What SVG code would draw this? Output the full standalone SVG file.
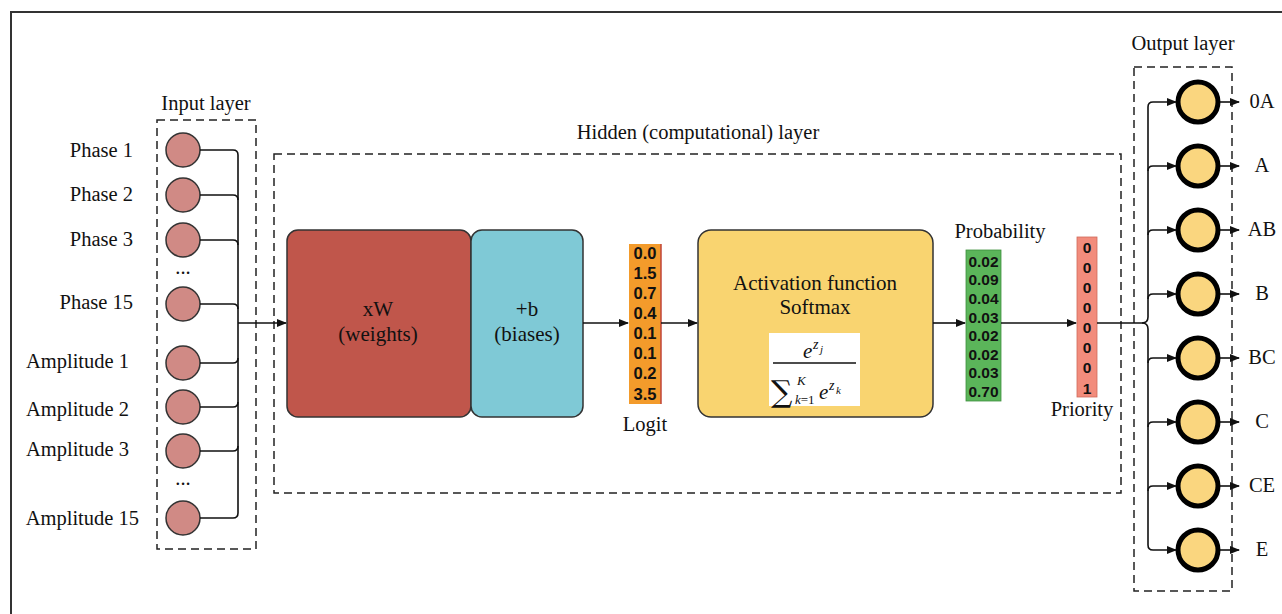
<svg xmlns="http://www.w3.org/2000/svg" width="1282" height="614" viewBox="0 0 1282 614">
  <defs>
    <marker id="arr" markerWidth="10" markerHeight="8" refX="9" refY="4" orient="auto" markerUnits="userSpaceOnUse">
      <path d="M0,0 L10,4 L0,8 Z" fill="#111"/>
    </marker>
    <style>
      .lbl { font-family: "Liberation Serif", "Times New Roman", serif; font-size: 20.5px; fill: #111; }
      .num { font-family: "Liberation Sans", Arial, sans-serif; font-size: 15.5px; font-weight: bold; fill: #111; text-anchor: middle; }
      .num.lg { font-size: 16.5px; }
      .dash { fill: none; stroke: #222; stroke-width: 1.5; stroke-dasharray: 8 5; }
      .wire { fill: none; stroke: #111; stroke-width: 1.6; }
      .inode { fill: #D08A85; stroke: #333; stroke-width: 1.5; }
      .onode { fill: #FAD67F; stroke: #000; stroke-width: 5; }
      .blk { stroke: #333; stroke-width: 1.5; }
      .math { font-family: "Liberation Serif", "Times New Roman", serif; font-style: italic; fill: #111; }
    </style>
  </defs>

  <rect width="1282" height="614" fill="#fff"/>
  <!-- outer frame -->
  <path d="M11,614 V12 H1282" fill="none" stroke="#333" stroke-width="2"/>

  <!-- layer containers -->
  <g id="input-layer">
    <rect class="dash" x="157" y="120" width="99" height="429"/>
    <text class="lbl" x="206" y="110" text-anchor="middle">Input layer</text>
  </g>
  <g id="hidden-layer">
    <rect class="dash" x="274" y="154" width="847" height="339"/>
    <text class="lbl" x="698" y="139" text-anchor="middle">Hidden (computational) layer</text>
  </g>
  <g id="output-layer">
    <rect class="dash" x="1134" y="67" width="98" height="524"/>
    <text class="lbl" x="1183" y="50" text-anchor="middle">Output layer</text>
  </g>

  <!-- input nodes -->
  <g id="inputs">
    <g id="in-phase1"><circle class="inode" cx="183" cy="150" r="17"/><text class="lbl" x="133" y="157" text-anchor="end">Phase 1</text></g>
    <g id="in-phase2"><circle class="inode" cx="183" cy="195" r="17"/><text class="lbl" x="133" y="201" text-anchor="end">Phase 2</text></g>
    <g id="in-phase3"><circle class="inode" cx="183" cy="240" r="17"/><text class="lbl" x="133" y="246" text-anchor="end">Phase 3</text></g>
    <text class="lbl" x="183" y="274" text-anchor="middle">...</text>
    <g id="in-phase15"><circle class="inode" cx="183" cy="304" r="17"/><text class="lbl" x="133" y="309" text-anchor="end">Phase 15</text></g>
    <g id="in-amp1"><circle class="inode" cx="183" cy="363" r="17"/><text class="lbl" x="129" y="368" text-anchor="end">Amplitude 1</text></g>
    <g id="in-amp2"><circle class="inode" cx="183" cy="407" r="17"/><text class="lbl" x="129" y="416" text-anchor="end">Amplitude 2</text></g>
    <g id="in-amp3"><circle class="inode" cx="183" cy="451" r="17"/><text class="lbl" x="129" y="456" text-anchor="end">Amplitude 3</text></g>
    <text class="lbl" x="183" y="485" text-anchor="middle">...</text>
    <g id="in-amp15"><circle class="inode" cx="183" cy="518" r="17"/><text class="lbl" x="139" y="525" text-anchor="end">Amplitude 15</text></g>
  </g>

  <!-- hidden layer blocks -->
  <g id="weights">
    <rect class="blk" x="287" y="230" width="184" height="187" rx="11" fill="#C0564B"/>
    <text class="lbl" x="378" y="316" text-anchor="middle" style="font-size:21px">xW</text>
    <text class="lbl" x="378" y="341" text-anchor="middle" style="font-size:21px">(weights)</text>
  </g>
  <g id="biases">
    <rect class="blk" x="471" y="230" width="112" height="187" rx="11" fill="#7FC9D6"/>
    <text class="lbl" x="527" y="316" text-anchor="middle" style="font-size:21px">+b</text>
    <text class="lbl" x="527" y="341" text-anchor="middle" style="font-size:21px">(biases)</text>
  </g>

  <g id="logit">
    <rect x="629" y="244" width="32" height="160" fill="#F39B2B"/>
    <line x1="661" y1="244" x2="661" y2="404" stroke="#C0453A" stroke-width="1.5"/>
    <text class="num lg" x="645" y="259">0.0</text>
    <text class="num lg" x="645" y="279">1.5</text>
    <text class="num lg" x="645" y="299">0.7</text>
    <text class="num lg" x="645" y="319">0.4</text>
    <text class="num lg" x="645" y="339">0.1</text>
    <text class="num lg" x="645" y="359">0.1</text>
    <text class="num lg" x="645" y="379">0.2</text>
    <text class="num lg" x="645" y="400">3.5</text>
    <text class="lbl" x="645" y="431" text-anchor="middle">Logit</text>
  </g>

  <g id="softmax">
    <rect class="blk" x="698" y="230" width="235" height="187" rx="13" fill="#F9D470"/>
    <text class="lbl" x="815" y="290" text-anchor="middle" style="font-size:21px">Activation function</text>
    <text class="lbl" x="815" y="314" text-anchor="middle" style="font-size:21px">Softmax</text>
    <rect x="769" y="333" width="91" height="73" fill="#fff"/>
    <!-- numerator e^{z_j} -->
    <text class="math" x="803" y="358" font-size="21">e</text>
    <text class="math" x="813" y="349" font-size="14">z</text>
    <text class="math" x="820" y="353" font-size="11">j</text>
    <line x1="773" y1="363" x2="856" y2="363" stroke="#111" stroke-width="1.4"/>
    <!-- denominator sum_{k=1}^{K} e^{z_k} -->
    <text x="771" y="402" font-family="'DejaVu Serif', serif" font-size="30" fill="#111">∑</text>
    <text class="math" x="797" y="385" font-size="13">K</text>
    <text x="795" y="404" font-family="'Liberation Serif', serif" font-size="13" fill="#111"><tspan font-style="italic">k</tspan>=1</text>
    <text class="math" x="819" y="399" font-size="21">e</text>
    <text class="math" x="829" y="390" font-size="14">z</text>
    <text class="math" x="836" y="394" font-size="11">k</text>
  </g>

  <g id="probability">
    <rect x="966" y="250" width="35" height="151" fill="#5BB55A" stroke="#3E8F3D" stroke-width="0.8"/>
    <text class="num" x="983.5" y="267">0.02</text>
    <text class="num" x="983.5" y="285">0.09</text>
    <text class="num" x="983.5" y="304">0.04</text>
    <text class="num" x="983.5" y="323">0.03</text>
    <text class="num" x="983.5" y="341">0.02</text>
    <text class="num" x="983.5" y="360">0.02</text>
    <text class="num" x="983.5" y="378">0.03</text>
    <text class="num" x="983.5" y="397">0.70</text>
    <text class="lbl" x="1000" y="238" text-anchor="middle">Probability</text>
  </g>

  <g id="priority">
    <rect x="1077" y="237" width="20" height="160" fill="#F28C7C" stroke="#D06A5A" stroke-width="0.8"/>
    <text class="num" x="1087" y="253">0</text>
    <text class="num" x="1087" y="273">0</text>
    <text class="num" x="1087" y="293">0</text>
    <text class="num" x="1087" y="313">0</text>
    <text class="num" x="1087" y="333">0</text>
    <text class="num" x="1087" y="353">0</text>
    <text class="num" x="1087" y="373">0</text>
    <text class="num" x="1087" y="394">1</text>
    <text class="lbl" x="1082" y="416" text-anchor="middle">Priority</text>
  </g>

  <!-- output nodes -->
  <g id="outputs">
    <g id="out-0A"><circle class="onode" cx="1198" cy="102" r="20"/><text class="lbl" x="1262" y="108" text-anchor="middle">0A</text></g>
    <g id="out-A"><circle class="onode" cx="1198" cy="166" r="20"/><text class="lbl" x="1262" y="172" text-anchor="middle">A</text></g>
    <g id="out-AB"><circle class="onode" cx="1198" cy="230" r="20"/><text class="lbl" x="1262" y="236" text-anchor="middle">AB</text></g>
    <g id="out-B"><circle class="onode" cx="1198" cy="294" r="20"/><text class="lbl" x="1262" y="300" text-anchor="middle">B</text></g>
    <g id="out-BC"><circle class="onode" cx="1198" cy="358" r="20"/><text class="lbl" x="1262" y="364" text-anchor="middle">BC</text></g>
    <g id="out-C"><circle class="onode" cx="1198" cy="422" r="20"/><text class="lbl" x="1262" y="428" text-anchor="middle">C</text></g>
    <g id="out-CE"><circle class="onode" cx="1198" cy="486" r="20"/><text class="lbl" x="1262" y="492" text-anchor="middle">CE</text></g>
    <g id="out-E"><circle class="onode" cx="1198" cy="550" r="20"/><text class="lbl" x="1262" y="556" text-anchor="middle">E</text></g>
  </g>

  <!-- connectors -->
  <g id="connectors">
    <!-- input bus -->
    <path class="wire" d="M200,150 H233 Q238,150 238,155 V513 Q238,518 233,518 H200"/>
    <path class="wire" d="M200,195 H233 Q238,195 238,200"/>
    <path class="wire" d="M200,240 H233 Q238,240 238,245"/>
    <path class="wire" d="M200,304 H233 Q238,304 238,309"/>
    <path class="wire" d="M200,363 H233 Q238,363 238,358"/>
    <path class="wire" d="M200,407 H233 Q238,407 238,402"/>
    <path class="wire" d="M200,451 H233 Q238,451 238,446"/>
    <path class="wire" d="M238,323 H286" marker-end="url(#arr)"/>

    <!-- hidden layer flow -->
    <path class="wire" d="M583,323 H628" marker-end="url(#arr)"/>
    <path class="wire" d="M661,323 H697" marker-end="url(#arr)"/>
    <path class="wire" d="M933,323 H965" marker-end="url(#arr)"/>
    <path class="wire" d="M1001,323 H1076" marker-end="url(#arr)"/>

    <!-- output bus -->
    <path class="wire" d="M1097,323 H1142 Q1148,323 1148,317 V107 Q1148,102 1153,102 H1176" marker-end="url(#arr)"/>
    <path class="wire" d="M1142,323 Q1148,323 1148,329 V545 Q1148,550 1153,550 H1176" marker-end="url(#arr)"/>
    <path class="wire" d="M1148,171 Q1148,166 1153,166 H1176" marker-end="url(#arr)"/>
    <path class="wire" d="M1148,235 Q1148,230 1153,230 H1176" marker-end="url(#arr)"/>
    <path class="wire" d="M1148,299 Q1148,294 1153,294 H1176" marker-end="url(#arr)"/>
    <path class="wire" d="M1148,363 Q1148,358 1153,358 H1176" marker-end="url(#arr)"/>
    <path class="wire" d="M1148,427 Q1148,422 1153,422 H1176" marker-end="url(#arr)"/>
    <path class="wire" d="M1148,491 Q1148,486 1153,486 H1176" marker-end="url(#arr)"/>

    <!-- node outputs -->
    <path class="wire" d="M1220,102 H1239" marker-end="url(#arr)"/>
    <path class="wire" d="M1220,166 H1239" marker-end="url(#arr)"/>
    <path class="wire" d="M1220,230 H1239" marker-end="url(#arr)"/>
    <path class="wire" d="M1220,294 H1239" marker-end="url(#arr)"/>
    <path class="wire" d="M1220,358 H1239" marker-end="url(#arr)"/>
    <path class="wire" d="M1220,422 H1239" marker-end="url(#arr)"/>
    <path class="wire" d="M1220,486 H1239" marker-end="url(#arr)"/>
    <path class="wire" d="M1220,550 H1239" marker-end="url(#arr)"/>
  </g>
</svg>
